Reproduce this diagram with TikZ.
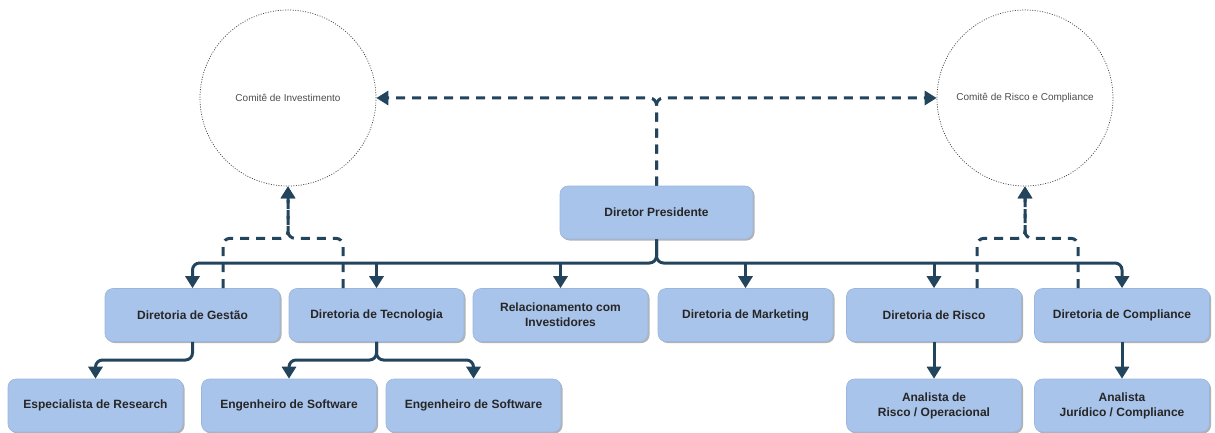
\documentclass[tikz,border=0pt]{standalone}
\usepackage{fontspec}
\setmainfont{Liberation Sans}
\usetikzlibrary{arrows.meta,shadows}
\definecolor{linkblue}{HTML}{23445D}
\definecolor{boxblue}{HTML}{A9C4EB}
\definecolor{boxedge}{HTML}{9AB6DE}

\begin{document}
\begin{tikzpicture}[x=1pt,y=1pt,
   cargo/.style={rectangle,rounded corners=8pt,fill=boxblue,draw=boxedge,line width=0.6pt,
      minimum width=175pt,minimum height=53pt,inner sep=2pt,align=center,
      font=\fontsize{12}{15}\selectfont\bfseries,text=black!85,
      drop shadow={shadow xshift=1.5pt,shadow yshift=-1.5pt,opacity=0.3,fill=black}},
   comite/.style={circle,draw=black!75,dash pattern=on 1pt off 1.5pt,line width=0.7pt,minimum size=176pt,inner sep=0pt,
      font=\fontsize{10}{12}\selectfont,text=black!70},
   link/.style={draw=linkblue,line width=3pt,rounded corners=7pt,-{Triangle[length=12pt,width=14pt]}},
   dlink/.style={link,dash pattern=on 9pt off 7pt}]
   \useasboundingbox (0,0) rectangle (1215,432);
   % committees
   \node[comite] (cominv) at (288,334) {Comitê de Investimento};
   \node[comite] (comrisco) at (1025,334) {Comitê de Risco e Compliance};
   % top
   \node[cargo,minimum width=193pt] (pres) at (656.5,219.5) {Diretor Presidente};
   % diretorias
   \node[cargo] (gestao) at (192.5,117) {Diretoria de Gestão};
   \node[cargo] (tecno) at (376.5,117) {Diretoria de Tecnologia};
   \node[cargo] (relac) at (560.5,117) {Relacionamento com\\Investidores};
   \node[cargo] (market) at (745.5,117) {Diretoria de Marketing};
   \node[cargo] (risco) at (934,117) {Diretoria de Risco};
   \node[cargo] (compl) at (1122,117) {Diretoria de Compliance};
   % staff
   \node[cargo] (espec) at (95.5,26.5) {Especialista de Research};
   \node[cargo] (engA) at (289,26.5) {Engenheiro de Software};
   \node[cargo] (engB) at (473.5,26.5) {Engenheiro de Software};
   \node[cargo] (anrisco) at (934,26.5) {Analista de\\Risco / Operacional};
   \node[cargo] (anjur) at (1122,26.5) {Analista\\Jurídico / Compliance};
   \coordinate (bus) at (0,169);
   \coordinate (elbow) at (0,72);
   % solid links
   \draw[link] (pres.south) |- (gestao.north |- bus) -- (gestao.north);
   \draw[link] (pres.south) |- (compl.north |- bus) -- (compl.north);
   \foreach \n in {tecno,relac,market,risco} {
      \draw[link] (\n.north |- bus) -- (\n.north);
   }
   \draw[link] (gestao.south) |- (espec.north |- elbow) -- (espec.north);
   \draw[link] (tecno.south) |- (engA.north |- elbow) -- (engA.north);
   \draw[link] (tecno.south) |- (engB.north |- elbow) -- (engB.north);
   \draw[link] (risco.south) -- (anrisco.north);
   \draw[link] (compl.south) -- (anjur.north);
   % dashed links
   \draw[dlink] (pres.north) |- (cominv.east);
   \draw[dlink] (pres.north) |- (comrisco.west);
   \draw[dlink] ([xshift=30.5pt]gestao.north) |- ([yshift=-52pt]cominv.south) -- (cominv.south);
   \draw[dlink] ([xshift=-33.5pt]tecno.north) |- ([yshift=-52pt]cominv.south) -- (cominv.south);
   \draw[dlink] ([xshift=43pt]risco.north) |- ([yshift=-52pt]comrisco.south) -- (comrisco.south);
   \draw[dlink] ([xshift=-44pt]compl.north) |- ([yshift=-52pt]comrisco.south) -- (comrisco.south);
\end{tikzpicture}
\end{document}
